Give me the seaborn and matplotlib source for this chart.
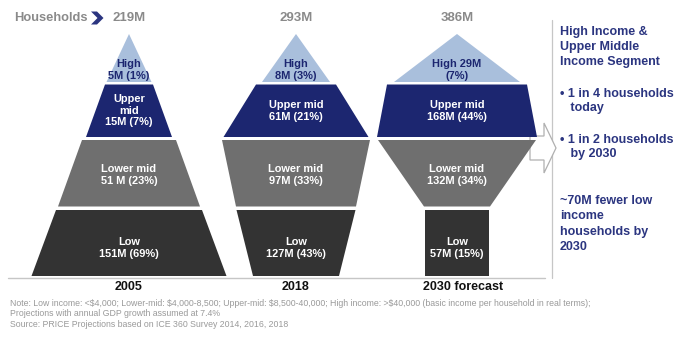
import matplotlib
matplotlib.use("Agg")
import matplotlib.pyplot as plt
from matplotlib.patches import Polygon
import seaborn as sns

# ---- data -------------------------------------------------------------
years = ["2005", "2018", "2030 forecast"]
totals = [219, 293, 386]                 # households, millions
segments = ["High", "Upper mid", "Lower mid", "Low"]
high = [5, 8, 29]
upper_mid = [15, 61, 168]
lower_mid = [51, 97, 132]
low = [151, 127, 57]
high_pct = [1, 3, 7]
upper_mid_pct = [7, 21, 44]
lower_mid_pct = [23, 33, 34]
low_pct = [69, 43, 15]

values = [high, upper_mid, lower_mid, low]
shares = [high_pct, upper_mid_pct, lower_mid_pct, low_pct]

# ---- layout (canvas units = pixels) ----------------------------------
col_x = [129, 296, 457]
band_y = [(34, 82), (84.5, 137), (140, 206.5), (210, 276)]
# half widths (top, bottom) of every band, per column
half_w = [
    [(0, 22.5), (24, 43), (47, 71), (73, 97.5)],
    [(0, 34), (40, 72.5), (74, 60), (59.5, 43)],
    [(0, 63), (70, 80), (79, 33), (32, 32)],
]
band_colors = ["#a9bfdc", "#1c2670", "#6f6f6f", "#333333"]
label_colors = ["#1c2670", "white", "white", "white"]
label_fmt = [
    ["{n}\n{v}M ({p}%)", "Upper\nmid\n{v}M ({p}%)", "{n}\n{v} M ({p}%)", "{n}\n{v}M ({p}%)"],
    ["{n}\n{v}M ({p}%)", "{n}\n{v}M ({p}%)", "{n}\n{v}M ({p}%)", "{n}\n{v}M ({p}%)"],
    ["{n} {v}M\n({p}%)", "{n}\n{v}M ({p}%)", "{n}\n{v}M ({p}%)", "{n}\n{v}M ({p}%)"],
]
label_dy = [-12, None, 2, 5]   # offset from band mid (None = centre); high measured from bottom

navy = "#2b3580"
grey_txt = "#8a8a8a"

sns.set_theme(style="white")
plt.rcParams["font.family"] = ["Liberation Sans", "DejaVu Sans"]
plt.rcParams["text.parse_math"] = False

fig = plt.figure(figsize=(6.82, 3.38), dpi=100)
ax = fig.add_axes([0, 0, 1, 1])
ax.set_xlim(0, 682)
ax.set_ylim(338, 0)
ax.axis("off")

# stacked income bands
for c, cx in enumerate(col_x):
    for b in range(len(segments)):
        y0, y1 = band_y[b]
        w0, w1 = half_w[c][b]
        poly = Polygon([(cx - w0, y0), (cx + w0, y0), (cx + w1, y1), (cx - w1, y1)],
                       closed=True, facecolor=band_colors[b], edgecolor="none", zorder=3)
        ax.add_patch(poly)
        v = values[b][c]
        p = shares[b][c]
        txt = label_fmt[c][b].format(n=segments[b], v=v, p=p)
        if b == 0:
            ty = y1 + label_dy[0]
        else:
            ty = (y0 + y1) / 2 + (label_dy[b] or 0)
        ax.text(cx, ty, txt, ha="center", va="center", color=label_colors[b],
                fontsize=7.9, fontweight="bold", linespacing=1.2, zorder=5)
    ax.text(cx, 18, f"{totals[c]}M", ha="center", va="center", color=grey_txt,
            fontsize=9.5, fontweight="bold")
    ax.text(cx + (6 if c == 2 else 0), 287.5, years[c], ha="center", va="center", color="#111111",
            fontsize=9, fontweight="bold")

# header "Households" with chevron
ax.text(14, 18, "Households", ha="left", va="center", color=grey_txt, fontsize=9.3, fontweight="bold")
ax.add_patch(Polygon([(91, 11.5), (97, 11.5), (103.5, 18), (97, 24.5), (91, 24.5), (97.5, 18)],
                     closed=True, facecolor=navy, edgecolor="none"))

# baseline
ax.plot([8, 545], [277.5, 277.5], color="#c6c6c6", lw=1.0, zorder=2)

# hollow arrow to the commentary panel
ax.add_patch(Polygon([(530, 136), (544, 136), (544, 123), (556, 148), (544, 173), (544, 160), (530, 160)],
                     closed=True, facecolor="white", edgecolor="#b0b0b0", lw=0.9, zorder=2))

# vertical divider
ax.plot([552, 552], [20, 278], color="#c6c6c6", lw=0.9, zorder=1)

# commentary panel
fs_panel = 9.0
ax.text(560, 47, "High Income &\nUpper Middle\nIncome Segment", ha="left", va="center",
        color=navy, fontsize=fs_panel, fontweight="bold", linespacing=1.35)
ax.text(560, 101, "• 1 in 4 households\n   today", ha="left", va="center",
        color=navy, fontsize=fs_panel, fontweight="bold", linespacing=1.2)
ax.text(560, 147, "• 1 in 2 households\n   by 2030", ha="left", va="center",
        color=navy, fontsize=fs_panel, fontweight="bold", linespacing=1.2)
ax.text(560, 224, "~70M fewer low\nincome\nhouseholds by\n2030", ha="left", va="center",
        color=navy, fontsize=fs_panel, fontweight="bold", linespacing=1.35)

# footnote
foot = ("Note: Low income: <$4,000; Lower-mid: $4,000-8,500; Upper-mid: $8,500-40,000; "
        "High income: >$40,000 (basic income per household in real terms);\n"
        "Projections with annual GDP growth assumed at 7.4%\n"
        "Source: PRICE Projections based on ICE 360 Survey 2014, 2016, 2018")
ax.text(10, 298.5, foot, ha="left", va="top", color="#9a9a9a", fontsize=6.3, linespacing=1.25)

fig.savefig("out.png", dpi=100, facecolor="white")
